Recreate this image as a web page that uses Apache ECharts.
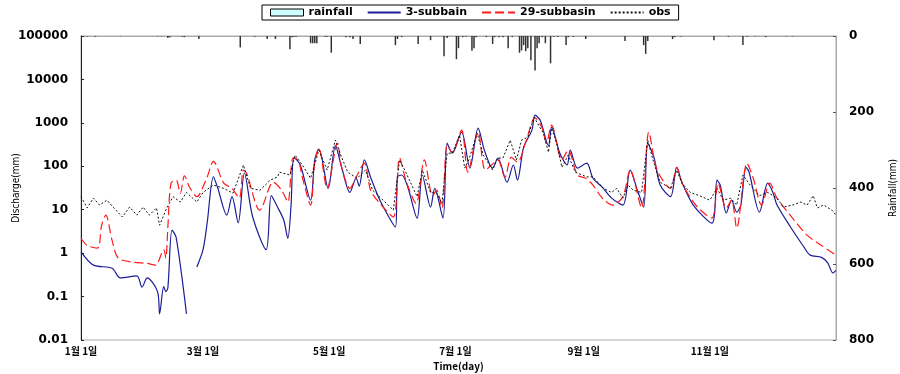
<!DOCTYPE html>
<html>
<head>
<meta charset="utf-8">
<script src="https://cdn.jsdelivr.net/npm/echarts@6/dist/echarts.min.js"></script>
<style>
  html, body { margin: 0; padding: 0; background: #fff; }
  #chart { width: 900px; height: 374px; }
</style>
</head>
<body>
<div id="chart"></div>
<script>
// x ticks (day of year) and their labels
const tickDays = [0, 59, 120, 181, 243, 304];
const tickLabels = ['1월 1일', '3월 1일', '5월 1일', '7월 1일', '9월 1일', '11월 1일'];

// [day, discharge]
const sub3 = [
  [0,1.07],[6,0.53],[15,0.45],[19,0.27],[27,0.3],[29.5,0.165],[32,0.27],[37,0.13],[38,0.04],[40,0.17],
  [41,0.13],[42,0.16],[44,3.4],[46,2.3],[51,0.04],[53,'-'],[56,0.48],[59,1.2],[61,5],[64,57],[66,33],
  [70.5,7.5],[73,20],[76,5],[79,70],[83,6.8],[89.5,1.2],[92,21],[95,11.5],[98,5.8],[100,2.2],[101.5,11.5],
  [103,160],[106,107],[111,16.6],[113,140],[115,250],[119.5,31],[123,300],[126,95],[130,25],[133,53],
  [134.5,35],[137,140],[140,56],[144.5,16.6],[152,4],[153,57],[155,63],[158,33],[162.5,6.4],[165,63],
  [169,11.5],[171,31],[175,6.4],[177,340],[179.5,200],[184,610],[188,91],[192,760],[195,235],[199,91],
  [201.5,155],[206,43],[209,107],[211,48],[214,275],[218,680],[219.5,1500],[222,1150],[226,300],[227.5,800],
  [231.5,200],[235,107],[236.5,235],[240,91],[244.5,118],[247.5,53],[252,33],[256.5,18.5],[262,12.8],
  [265.5,82],[269,28],[272,11.5],[274,340],[277,160],[280,37],[285,20],[288,95],[290.5,43],[296,12.8],
  [305,4.9],[307.5,48],[309,37],[312,8.4],[314.5,16.6],[317,8.8],[319,12.8],[321.5,95],[323,73],[328,8.8],
  [332,41],[334.5,25],[336.5,12.8],[343,4],[349,1.5],[352.5,0.9],[358,0.8],[361,0.6],[363.5,0.35],[365,0.4]
];
const sub29 = [
  [0,2.2],[3,1.5],[8,1.3],[10,4.4],[12,7.5],[15,2],[18,0.77],[25,0.62],[32,0.58],[36,0.53],[40,1.2],
  [41,0.77],[42,4],[43.5,41],[46,48],[48,24],[50,60],[52.5,33],[56,20],[61,57],[64,130],[69,41],[73,31],
  [76.5,18.5],[78.5,82],[80,70],[86.5,9.8],[93,43],[97,28],[100,15],[102.5,155],[105,140],[107,56],
  [111,12.8],[113,125],[115,260],[119,31],[124,340],[126,95],[130,31],[133,56],[137,118],[140,28],
  [144.5,14],[151,6.8],[154,155],[157.5,41],[162,14],[166,140],[170,21],[172,28],[174.5,11],[177,300],
  [179.5,210],[184,680],[187,73],[192,610],[195.5,82],[200,125],[201.5,140],[205,56],[208,160],[211,125],
  [215,360],[219.5,1300],[223,760],[225,340],[227.5,890],[232.5,140],[235.5,235],[240,63],[244,53],
  [247.5,37],[252,18.5],[257,12.8],[262,20],[265.5,82],[271,11],[274.5,610],[278.5,82],[285,31],[288,95],
  [291,37],[298,11.5],[305,6.4],[308,41],[312,11],[314.5,16.6],[317,3.8],[322,118],[325,53],[329,12.8],
  [333,41],[336.5,18.5],[344,6.4],[351,2.6],[358,1.5],[365,0.9]
];
const obs = [
  [0,20],[3,11],[6,18.5],[9,12.8],[12.5,16.6],[15.5,11.5],[20,6.8],[23.5,11.5],[27,7.5],[30,11.5],[33,7.5],
  [36.5,11],[38,4.4],[41.5,11],[44.5,20],[48,15],[51,25],[56,15],[59,25],[64,37],[69,31],[73.5,24],
  [78.5,107],[82,31],[86.5,28],[91.5,48],[95,57],[96,73],[101,63],[103.5,180],[107,107],[111,53],[115,235],
  [119,82],[123,400],[126,160],[129,73],[133.5,53],[137.5,82],[141,28],[146,16.6],[151,9.8],[154,140],
  [157,73],[162.5,20],[165,82],[169,25],[172,24],[174.5,14],[177,200],[179.5,200],[183,520],[185.5,91],
  [187.5,140],[191.5,580],[194.5,180],[199,82],[201.5,155],[204,155],[207.5,400],[210.5,140],[213,400],
  [216,470],[219,1350],[223.5,580],[226,210],[227.5,760],[230,340],[232.5,95],[235.5,180],[239,73],
  [244.5,57],[247.5,57],[252.5,31],[256.5,25],[259,31],[262,18.5],[264.5,37],[267,28],[271,25],[274,400],
  [276.5,140],[280,43],[285,31],[288,82],[290.5,41],[294.5,25],[299,21],[304,16.6],[307.5,31],[310.5,16.6],
  [314,18.5],[317,12.8],[320,63],[323.5,37],[328,21],[332,25],[336.5,18.5],[339.5,11.5],[344,12.8],
  [348,15],[351,12.8],[354,21],[356,11],[359,12.8],[363,9.8],[365,7.5]
];
// [day, rainfall mm]
const rain = [
  [3,1],[7,2],[19,1],[37,1],[39,1],[42,5],[43,3],[49,2],[50,3],[57,8],[77,30],[84,2],[90,8],[94,8],
  [101,35],[102,3],[103,2],[104,2],[111,19],[112,19],[113,19],[114,19],[118,2],[119,2],[121,44],[128,3],
  [130,3],[131.5,8],[135,21],[152,24],[153,8],[155,3],[163,21],[169,11],[175.5,53],[177,5],[181.5,61],
  [182.5,32],[184.5,3],[186,2],[189,39],[190,32],[191,3],[196,3],[199,21],[200,3],[202,3],[204,3],
  [206.5,32],[208.5,3],[212,44],[213,38],[214,24],[215,40],[216,32],[217.5,64],[219.5,91],[220.5,32],
  [221.5,19],[223,3],[224.5,19],[227,72],[228.5,2],[230.5,2],[234.5,24],[235.5,3],[238,2],[244,8],
  [263,13],[272,24],[273,47],[274,13],[286,8],[287,3],[290,1],[306,11],[313,2],[320,24],[322,2],[326,1],
  [331,3],[341,1],[344,1]
];
const logTicks = [0.01, 0.1, 1, 10, 100, 1000, 10000, 100000];

const font = 'DejaVu Sans';
const nameFont = 'DejaVu Sans Condensed, Liberation Sans, sans-serif';
const hideSym = { opacity: 0 };
const chart = echarts.init(document.getElementById('chart'));
chart.setOption({
  animation: false,
  backgroundColor: '#fff',
  textStyle: { fontFamily: font },
  legend: {
    top: 5, left: 262,
    borderColor: '#000', borderWidth: 1, padding: [2, 8], itemGap: 14,
    itemWidth: 33, itemHeight: 7,
    textStyle: { fontFamily: font, fontSize: 11, fontWeight: 'bold', color: '#000' },
    data: [
      { name: 'rainfall', icon: 'rect', itemStyle: { color: '#cdfdfd', borderColor: '#000', borderWidth: 1 } },
      { name: '3-subbain', itemStyle: hideSym },
      { name: '29-subbasin', itemStyle: hideSym },
      { name: 'obs', itemStyle: hideSym }
    ]
  },
  grid: {
    left: 81, right: 64, top: 36, bottom: 34,
    outerBoundsMode: 'none',
    show: true, borderColor: '#aaa', borderWidth: 1
  },
  xAxis: {
    type: 'value', min: 0, max: 365,
    name: 'Time(day)', nameLocation: 'middle', nameGap: 21, nameMoveOverlap: false,
    nameTextStyle: { fontFamily: 'Noto Sans CJK KR', fontSize: 10, fontWeight: 'bold', color: '#000' },
    axisLine: { show: true, lineStyle: { color: '#aaa' } },
    axisTick: { show: false },
    splitLine: { show: false },
    axisLabel: {
      customValues: tickDays, margin: 6,
      fontFamily: 'Noto Sans CJK KR', fontSize: 10, fontWeight: 'bold', color: '#000',
      formatter: v => tickLabels[tickDays.indexOf(v)]
    }
  },
  yAxis: [
    {
      type: 'log', logBase: 10, min: 0.01, max: 100000,
      name: 'Discharge(mm)', nameLocation: 'middle', nameGap: 60, nameRotate: 90, nameMoveOverlap: false,
      nameTextStyle: { fontFamily: nameFont, fontSize: 10, color: '#000' },
      axisLine: { show: true, lineStyle: { color: '#222' } },
      axisTick: { show: true, inside: true, length: 3, lineStyle: { color: '#222' } },
      splitLine: { show: false },
      axisLabel: {
        fontSize: 12, fontWeight: 'bold', color: '#000', margin: 13,
        formatter: v => {
          const t = logTicks.find(x => Math.abs(Math.log10(x) - Math.log10(v)) < 1e-6);
          return t === undefined ? '' : String(t);
        }
      }
    },
    {
      type: 'value', min: 0, max: 800, interval: 200, inverse: true,
      name: 'Rainfall(mm)', nameLocation: 'middle', nameGap: 52, nameRotate: 90, nameMoveOverlap: false,
      nameTextStyle: { fontFamily: nameFont, fontSize: 10, color: '#000' },
      axisLine: { show: true, lineStyle: { color: '#aaa' } },
      axisTick: { show: true, inside: true, length: 3, lineStyle: { color: '#555' } },
      splitLine: { show: false },
      axisLabel: { fontSize: 12, fontWeight: 'bold', color: '#000', margin: 13 }
    }
  ],
  series: [
    {
      name: 'rainfall', type: 'bar', yAxisIndex: 1, barWidth: 1.5,
      itemStyle: { color: '#333' },
      data: rain
    },
    {
      name: '3-subbain', type: 'line', symbol: 'none', smooth: 0.3,
      lineStyle: { color: '#1c1c96', width: 1.2 },
      data: sub3
    },
    {
      name: '29-subbasin', type: 'line', symbol: 'none', smooth: 0.3,
      lineStyle: { color: '#ff1a1a', width: 1.2, type: [9, 4] },
      data: sub29
    },
    {
      name: 'obs', type: 'line', symbol: 'none',
      lineStyle: { color: '#111', width: 1, type: [2, 2] },
      data: obs
    }
  ]
});
</script>
</body>
</html>
